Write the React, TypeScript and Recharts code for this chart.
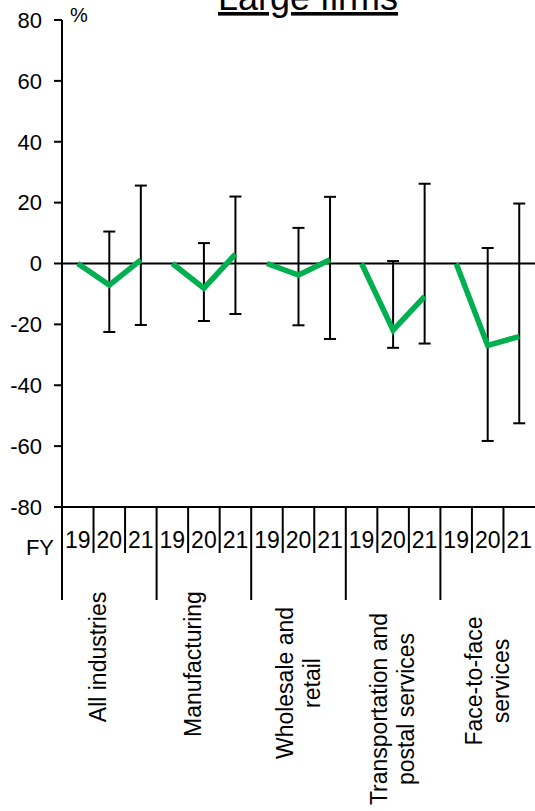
import React from 'react'
import {
  ComposedChart,
  Line,
  ErrorBar,
  XAxis,
  YAxis,
  ReferenceLine,
  Customized,
} from 'recharts'

const GROUPS = [
  'All industries',
  'Manufacturing',
  'Wholesale and\nretail',
  'Transportation and\npostal services',
  'Face-to-face\nservices',
]
const YEARS = ['19', '20', '21']

// DI (%), FY19 = base
const VALUES = [
  [0, -7.1, 1.2],
  [0, -8.1, 3.1],
  [0, -3.8, 1.2],
  [0, -21.9, -10.8],
  [0, -26.9, -24.0],
]
const LOWER = [
  [null, -22.5, -20.2],
  [null, -18.9, -16.6],
  [null, -20.3, -24.8],
  [null, -27.7, -26.3],
  [null, -58.3, -52.5],
]
const UPPER = [
  [null, 10.5, 25.6],
  [null, 6.7, 22.0],
  [null, 11.7, 21.9],
  [null, 0.8, 26.2],
  [null, 5.1, 19.7],
]
const Y_TICKS = [-80, -60, -40, -20, 0, 20, 40, 60, 80]

const W = 535
const H = 811
const Y_AXIS_W = 62
const X_AXIS_H = 304
const TOP = 20
const PLOT_BOTTOM = H - X_AXIS_H
const FONT = '"Liberation Sans", Arial, sans-serif'
const GREEN = '#00B050'
// vertical centre of each rotated group label
const LABEL_MID = [657, 664, 683, 709, 681]

const data = GROUPS.flatMap((g, gi) =>
  YEARS.map((yr, yi) => {
    const v = VALUES[gi][yi]
    const lo = LOWER[gi][yi]
    const hi = UPPER[gi][yi]
    return {
      key: `${gi}-${yr}`,
      year: yr,
      value: v,
      err: lo == null || hi == null ? null : [v - lo, hi - v],
      [`g${gi}`]: v,
    }
  })
)

const SLOT = (W - Y_AXIS_W) / data.length

function XTick(props: any) {
  const { x, index } = props
  const row = data[index]
  const gi = Math.floor(index / 3)
  const left = x - SLOT / 2
  const groupStart = index % 3 === 0
  const lines = GROUPS[gi].split('\n')
  return (
    <g>
      <line
        x1={left}
        x2={left}
        y1={PLOT_BOTTOM}
        y2={groupStart ? 600 : 553}
        stroke="#000"
        strokeWidth={2}
      />
      <text
        x={x}
        y={548}
        textAnchor="middle"
        fontSize={23}
        fontFamily={FONT}
        fill="#000"
      >
        {row.year}
      </text>
      {index === 0 && (
        <text
          x={left - 8}
          y={555}
          textAnchor="end"
          fontSize={22}
          fontFamily={FONT}
          fill="#000"
        >
          FY
        </text>
      )}
      {index % 3 === 1 &&
        lines.map((t, li) => {
          const off = lines.length === 1 ? -11 : li === 0 ? -14 : 13
          const cx = x + off
          const cy = LABEL_MID[gi]
          return (
            <text
              key={li}
              x={cx}
              y={cy}
              dy="0.35em"
              textAnchor="middle"
              fontSize={23}
              fontFamily={FONT}
              fill="#000"
              transform={`rotate(-90 ${cx} ${cy})`}
            >
              {t}
            </text>
          )
        })}
    </g>
  )
}

function Decorations() {
  return (
    <g>
      <text
        x={308}
        y={10}
        textAnchor="middle"
        fontSize={36}
        fontFamily={FONT}
        fill="#000"
        textDecoration="underline"
      >
        Large firms
      </text>
      <text x={70} y={22} fontSize={20} fontFamily={FONT} fill="#000">
        %
      </text>
    </g>
  )
}

export default function App() {
  return (
    <div style={{ position: 'absolute', left: 0, top: 0, background: '#fff' }}>
      <ComposedChart
        width={W}
        height={H}
        data={data}
        margin={{ top: TOP, right: 0, bottom: 0, left: 0 }}
      >
        <XAxis
          dataKey="key"
          scale="band"
          height={X_AXIS_H}
          interval={0}
          tickLine={false}
          axisLine={{ stroke: '#000', strokeWidth: 2 }}
          tick={<XTick />}
        />
        <YAxis
          width={Y_AXIS_W}
          domain={[-80, 80]}
          ticks={Y_TICKS}
          interval={0}
          tickSize={8}
          tickMargin={12}
          axisLine={{ stroke: '#000', strokeWidth: 2 }}
          tickLine={{ stroke: '#000', strokeWidth: 2 }}
          tick={{ fill: '#000', fontSize: 22, fontFamily: FONT }}
        />
        <ReferenceLine y={0} stroke="#000" strokeWidth={2} />
        <Line
          dataKey="value"
          stroke="none"
          dot={false}
          activeDot={false}
          isAnimationActive={false}
        >
          <ErrorBar
            dataKey="err"
            direction="y"
            width={6}
            stroke="#000"
            strokeWidth={2}
            isAnimationActive={false}
          />
        </Line>
        {GROUPS.map((g, gi) => (
          <Line
            key={g}
            dataKey={`g${gi}`}
            type="linear"
            stroke={GREEN}
            strokeWidth={5.5}
            dot={false}
            activeDot={false}
            connectNulls={false}
            isAnimationActive={false}
          />
        ))}
        <Customized component={Decorations} />
      </ComposedChart>
    </div>
  )
}
